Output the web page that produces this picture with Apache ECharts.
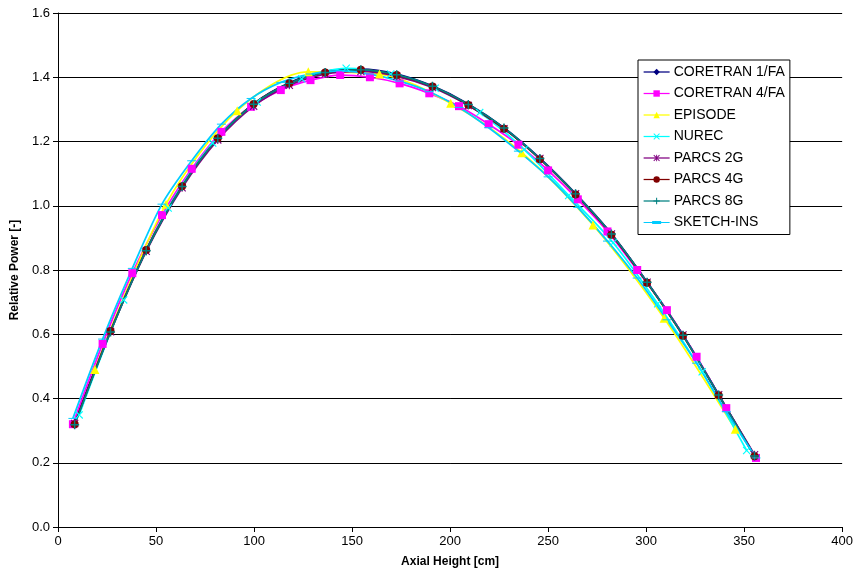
<!DOCTYPE html>
<html>
<head>
<meta charset="utf-8">
<script src="https://cdn.jsdelivr.net/npm/echarts@6/dist/echarts.min.js"></script>
<style>
html,body{margin:0;padding:0;background:#fff;}
#chart{width:856px;height:579px;}
</style>
</head>
<body>
<div id="chart"></div>
<script>
// Axial node positions [cm]
const xNode20 = [8.5, 26.8, 45.0, 63.3, 81.5, 99.8, 118.0, 136.3, 154.5, 172.8, 191.0, 209.3, 227.5, 245.8, 264.0, 282.3, 300.5, 318.8, 337.0, 355.3];
const xNode24 = [7.6, 22.75, 37.9, 53.05, 68.2, 83.35, 98.5, 113.65, 128.8, 143.95, 159.1, 174.25, 189.4, 204.55, 219.7, 234.85, 250.0, 265.15, 280.3, 295.45, 310.6, 325.75, 340.9, 356.05];
const xNode16 = [10.8, 33.5, 56.2, 78.9, 101.6, 124.3, 147.0, 169.7, 192.4, 215.1, 237.8, 260.5, 283.2, 305.9, 328.6, 351.3];
const xNode10 = [18.8, 55.1, 91.4, 127.7, 164.0, 200.3, 236.6, 272.9, 309.2, 345.5];

// Relative power values
const coretran1 = [0.325, 0.612, 0.863, 1.062, 1.212, 1.318, 1.383, 1.418, 1.425, 1.410, 1.373, 1.317, 1.243, 1.148, 1.038, 0.913, 0.763, 0.598, 0.412, 0.222];
const coretran4 = [0.320, 0.570, 0.790, 0.971, 1.115, 1.230, 1.308, 1.360, 1.391, 1.407, 1.400, 1.381, 1.350, 1.310, 1.254, 1.190, 1.110, 1.020, 0.920, 0.800, 0.675, 0.530, 0.370, 0.215];
const episode = [0.490, 1.005, 1.296, 1.417, 1.410, 1.319, 1.165, 0.940, 0.650, 0.304];
const nurec = [0.349, 0.707, 0.993, 1.195, 1.323, 1.395, 1.428, 1.410, 1.366, 1.290, 1.175, 1.032, 0.885, 0.695, 0.483, 0.238];
const parcs2 = [0.322, 0.608, 0.858, 1.056, 1.205, 1.310, 1.375, 1.410, 1.418, 1.403, 1.368, 1.312, 1.240, 1.147, 1.037, 0.912, 0.762, 0.598, 0.412, 0.225];
const parcs4 = [0.320, 0.610, 0.862, 1.061, 1.210, 1.317, 1.381, 1.415, 1.423, 1.407, 1.371, 1.314, 1.240, 1.145, 1.035, 0.910, 0.760, 0.595, 0.410, 0.220];
const parcs8 = [0.318, 0.607, 0.860, 1.060, 1.210, 1.316, 1.381, 1.415, 1.423, 1.408, 1.372, 1.315, 1.242, 1.147, 1.037, 0.912, 0.762, 0.597, 0.411, 0.221];
const sketch = [0.338, 0.585, 0.805, 1.005, 1.140, 1.254, 1.334, 1.384, 1.410, 1.420, 1.410, 1.388, 1.355, 1.306, 1.243, 1.170, 1.090, 0.995, 0.890, 0.775, 0.645, 0.510, 0.359, 0.215];

const seriesNames = ['CORETRAN 1/FA', 'CORETRAN 4/FA', 'EPISODE', 'NUREC', 'PARCS 2G', 'PARCS 4G', 'PARCS 8G', 'SKETCH-INS'];
const xTicks = [0, 50, 100, 150, 200, 250, 300, 350, 400];
const yTicks = [0.0, 0.2, 0.4, 0.6, 0.8, 1.0, 1.2, 1.4, 1.6];

function pairs(xs, ys) { return xs.map((x, i) => [x, ys[i]]); }

const PLUS = 'path://M4.2,0H5.8V4.2H10V5.8H5.8V10H4.2V5.8H0V4.2H4.2Z';
const CROSS = 'path://M1,0L5,4L9,0L10,1L6,5L10,9L9,10L5,6L1,10L0,9L4,5L0,1Z';
const STAR = 'path://M1,0L5,4L9,0L10,1L6,5L10,9L9,10L5,6L1,10L0,9L4,5L0,1ZM4.3,0H5.7V10H4.3Z';
const DASH = 'path://M0,0H9V3H0Z';
const DASH_LEGEND = 'path://M0,3.4H26V4.6H0ZM8.5,2.5H17.5V5.5H8.5Z';

const defs = [
  {name: seriesNames[0], data: pairs(xNode20, coretran1), color: '#000080', symbol: 'diamond', size: 7},
  {name: seriesNames[1], data: pairs(xNode24, coretran4), color: '#FF00FF', symbol: 'rect', size: 8},
  {name: seriesNames[2], data: pairs(xNode10, episode), color: '#FFFF00', symbol: 'triangle', size: 9},
  {name: seriesNames[3], data: pairs(xNode16, nurec), color: '#00FFFF', symbol: CROSS, size: 8},
  {name: seriesNames[4], data: pairs(xNode20, parcs2), color: '#800080', symbol: STAR, size: 8},
  {name: seriesNames[5], data: pairs(xNode20, parcs4), color: '#800000', symbol: 'circle', size: 8},
  {name: seriesNames[6], data: pairs(xNode20, parcs8), color: '#008080', symbol: PLUS, size: 9},
  {name: seriesNames[7], data: pairs(xNode24, sketch), color: '#00CCFF', symbol: DASH, size: [9, 3]}
];

const legendData = seriesNames.map((n, i) => i === 7 ? {name: n, icon: DASH_LEGEND} : {name: n});

const chart = echarts.init(document.getElementById('chart'), null, {renderer: 'canvas'});
const font = 'Liberation Sans, Arial, sans-serif';
chart.setOption({
  animation: false,
  backgroundColor: '#fff',
  textStyle: {fontFamily: font},
  grid: {left: 58, right: 10, top: 13, bottom: 52},
  legend: {
    orient: 'vertical',
    left: 638,
    top: 60,
    padding: [5, 5, 5, 5],
    itemWidth: 26,
    itemHeight: 8,
    itemGap: 7.5,
    backgroundColor: '#fff',
    borderColor: '#000',
    borderWidth: 1,
    itemStyle: {borderWidth: 0},
    lineStyle: {width: 1.25},
    textStyle: {fontFamily: font, fontSize: 14, color: '#000', lineHeight: 14, padding: [0, 0, 0, -1]},
    data: legendData
  },
  xAxis: {
    type: 'value',
    min: xTicks[0],
    max: xTicks[xTicks.length - 1],
    interval: 50,
    name: 'Axial Height [cm]',
    nameLocation: 'middle',
    nameGap: 29,
    nameTextStyle: {fontFamily: font, fontSize: 12, fontWeight: 'bold', color: '#000'},
    axisLine: {show: true, onZero: false, lineStyle: {color: '#000', width: 1}},
    axisTick: {show: true, inside: false, length: 5, lineStyle: {color: '#000'}},
    axisLabel: {fontFamily: font, fontSize: 13, color: '#000', margin: 8},
    splitLine: {show: false}
  },
  yAxis: {
    type: 'value',
    min: yTicks[0],
    max: yTicks[yTicks.length - 1],
    interval: 0.2,
    name: 'Relative Power [-]',
    nameLocation: 'middle',
    nameGap: 35,
    nameTextStyle: {fontFamily: font, fontSize: 12, fontWeight: 'bold', color: '#000'},
    axisLine: {show: true, onZero: false, lineStyle: {color: '#000', width: 1}},
    axisTick: {show: true, inside: false, length: 5, lineStyle: {color: '#000'}},
    axisLabel: {fontFamily: font, fontSize: 13, color: '#000', margin: 8, formatter: v => v.toFixed(1)},
    splitLine: {show: true, lineStyle: {color: '#000', width: 1}}
  },
  series: defs.map(d => ({
    type: 'line',
    name: d.name,
    data: d.data,
    smooth: 0.3,
    color: d.color,
    symbol: d.symbol,
    symbolSize: d.size,
    symbolKeepAspect: true,
    showAllSymbol: true,
    lineStyle: {color: d.color, width: 1.75},
    itemStyle: {color: d.color, borderWidth: 0},
    emphasis: {disabled: true}
  }))
});
</script>
</body>
</html>
